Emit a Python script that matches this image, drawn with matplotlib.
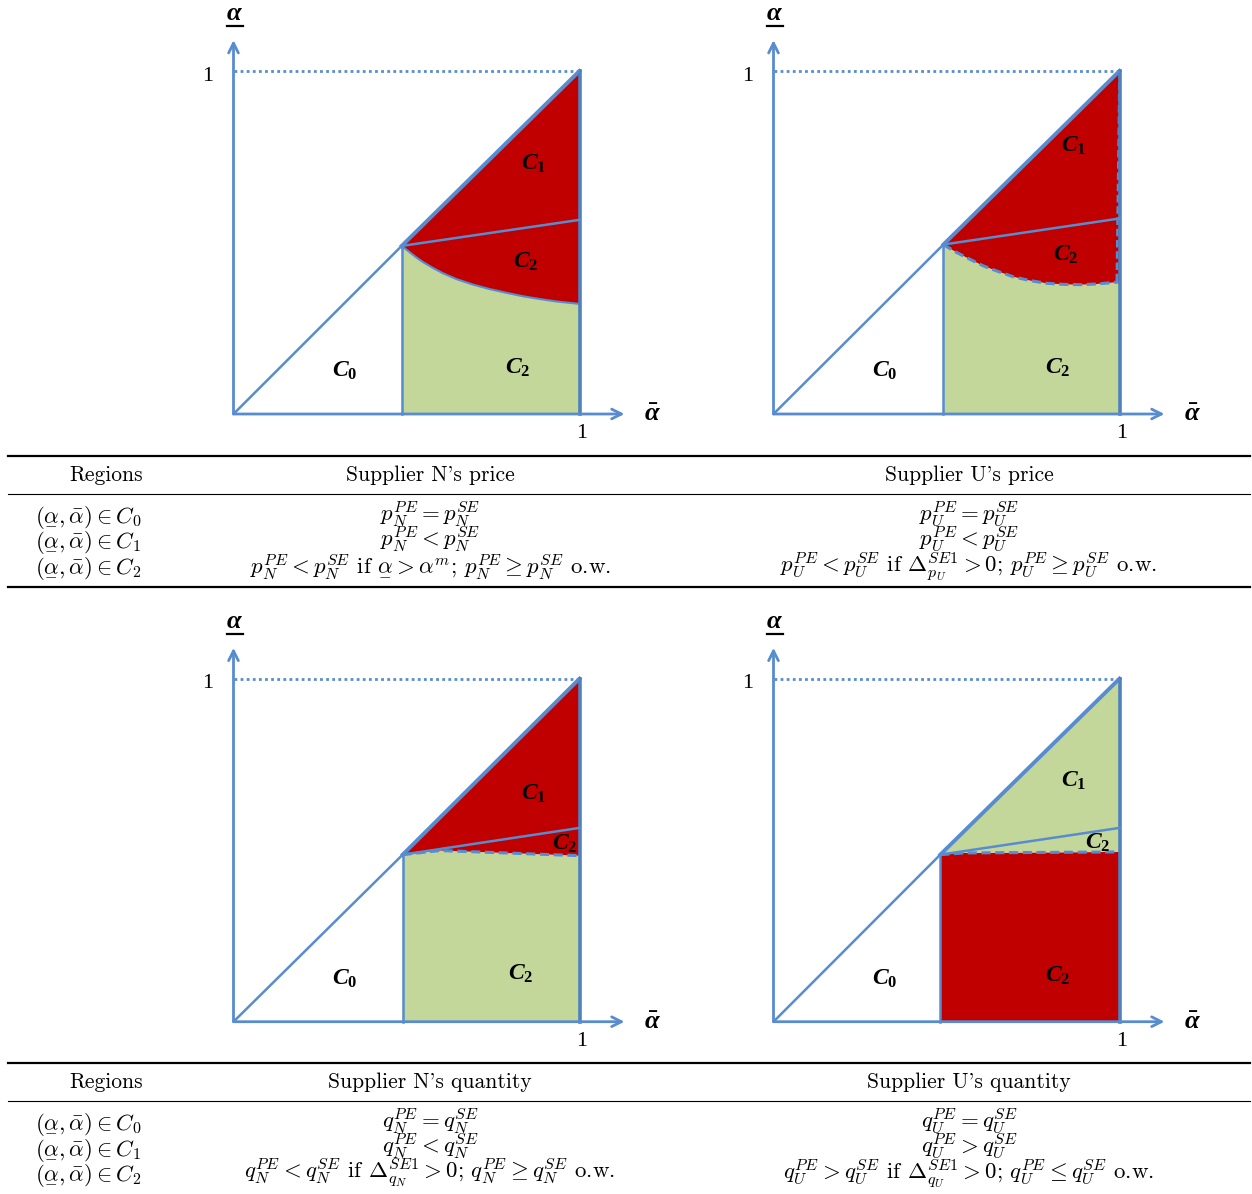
import numpy as np
import matplotlib
matplotlib.use("Agg")
import matplotlib.pyplot as plt

plt.rcParams['mathtext.fontset'] = 'custom'
plt.rcParams['mathtext.it'] = 'Liberation Serif:italic:bold'
plt.rcParams['mathtext.rm'] = 'Liberation Serif:bold'
plt.rcParams['mathtext.bf'] = 'Liberation Serif:bold'

# ---- data: region boundaries of each panel (TL, TR, BL, BR) ----
kink_x = [0.486, 0.491, 0.489, 0.482]
kink_y = [0.490, 0.494, 0.487, 0.487]
divider_end = [0.566, 0.570, 0.565, 0.565]

bound_x_tl = [0.486, 0.510, 0.529, 0.549, 0.578, 0.606, 0.645, 0.693, 0.741, 0.790, 0.838, 0.886, 0.934, 1.0]
bound_y_tl = [0.490, 0.471, 0.456, 0.442, 0.425, 0.410, 0.393, 0.377, 0.364, 0.353, 0.343, 0.335, 0.328, 0.321]
bound_x_tr = [0.491, 0.529, 0.568, 0.606, 0.645, 0.693, 0.741, 0.790, 0.838, 0.886, 0.934, 1.0]
bound_y_tr = [0.494, 0.471, 0.451, 0.432, 0.417, 0.400, 0.389, 0.381, 0.378, 0.377, 0.379, 0.385]
bound_x_bl = [0.489, 0.597, 1.0]
bound_y_bl = [0.487, 0.499, 0.484]
bound_x_br = [0.482, 0.550, 1.0]
bound_y_br = [0.487, 0.492, 0.495]

# colour of (upper region, lower region) per panel
upper_col = ['red', 'red', 'red', 'green']
lower_col = ['green', 'green', 'green', 'red']
bound_dashed = [False, True, True, True]

label_pos = [
    [(0.322, 0.128, '$C_0$'), (0.868, 0.732, '$C_1$'), (0.845, 0.446, '$C_2$'), (0.822, 0.137, '$C_2$')],
    [(0.322, 0.128, '$C_0$'), (0.866, 0.784, '$C_1$'), (0.845, 0.466, '$C_2$'), (0.822, 0.137, '$C_2$')],
    [(0.322, 0.127, '$C_0$'), (0.868, 0.667, '$C_1$'), (0.958, 0.521, '$C_2$'), (0.831, 0.142, '$C_2$')],
    [(0.322, 0.127, '$C_0$'), (0.866, 0.705, '$C_1$'), (0.938, 0.524, '$C_2$'), (0.822, 0.136, '$C_2$')],
]

# ---- table texts ----
region_rows = [r'$(\underset{-}{\alpha},\bar{\alpha})\in C_0$',
               r'$(\underset{-}{\alpha},\bar{\alpha})\in C_1$',
               r'$(\underset{-}{\alpha},\bar{\alpha})\in C_2$']
price_headers = ['Regions', "Supplier N's price", "Supplier U's price"]
price_N = [r'$p_N^{PE}=p_N^{SE}$', r'$p_N^{PE}<p_N^{SE}$',
           r'$p_N^{PE}<p_N^{SE}$ if $\underset{-}{\alpha}>\alpha^m$; $p_N^{PE}\geq p_N^{SE}$ o.w.']
price_U = [r'$p_U^{PE}=p_U^{SE}$', r'$p_U^{PE}<p_U^{SE}$',
           r'$p_U^{PE}<p_U^{SE}$ if $\Delta_{p_U}^{SE1}>0$; $p_U^{PE}\geq p_U^{SE}$ o.w.']
qty_headers = ['Regions', "Supplier N's quantity", "Supplier U's quantity"]
qty_N = [r'$q_N^{PE}=q_N^{SE}$', r'$q_N^{PE}<q_N^{SE}$',
         r'$q_N^{PE}<q_N^{SE}$ if $\Delta_{q_N}^{SE1}>0$; $q_N^{PE}\geq q_N^{SE}$ o.w.']
qty_U = [r'$q_U^{PE}=q_U^{SE}$', r'$q_U^{PE}>q_U^{SE}$',
         r'$q_U^{PE}>q_U^{SE}$ if $\Delta_{q_U}^{SE1}>0$; $q_U^{PE}\leq q_U^{SE}$ o.w.']

BLUE = '#588CD0'
EDGE = '#4F81BD'
RED = '#C00000'
GREEN = '#C4D79B'
COLS = {'red': RED, 'green': GREEN}

W, H = 1252, 1194
SX, SY = 346, 343
fig = plt.figure(figsize=(W / 100, H / 100), dpi=100)


def panel_axes(ox, oy):
    x0, x1, y0, y1 = -0.2, 1.3, -0.15, 1.25
    ax = fig.add_axes([(ox + x0 * SX) / W, (H - oy + y0 * SY) / H,
                       (x1 - x0) * SX / W, (y1 - y0) * SY / H])
    ax.set_xlim(x0, x1)
    ax.set_ylim(y0, y1)
    ax.axis('off')
    return ax


def draw_panel(ax, i, bx, by):
    kx, ky = kink_x[i], kink_y[i]
    bx = np.array(bx); by = np.array(by)
    # lower region
    lx = np.concatenate([[kx], bx, [1.0, 1.0, kx]])
    ly = np.concatenate([[ky], by, [by[-1], 0.0, 0.0]])
    ax.fill(lx, ly, color=COLS[lower_col[i]], lw=0)
    # upper region
    ux = np.concatenate([[kx, 1.0, 1.0], bx[::-1]])
    uy = np.concatenate([[ky, 1.0, by[-1]], by[::-1]])
    ax.fill(ux, uy, color=COLS[upper_col[i]], lw=0)
    if bound_dashed[i]:
        ax.plot(bx, by, color=BLUE, lw=2.2, ls=(0, (3, 1.5)))
        if i == 1:
            ax.plot([kx, 1.0, 0.992], [ky, 1.0, by[-1]], color=BLUE, lw=1.8, ls=(0, (3, 1.5)))
    else:
        ax.plot(bx, by, color=BLUE, lw=1.5)
    # frame lines
    ax.plot([0, kx], [0, ky], color=BLUE, lw=1.8, solid_capstyle='butt')
    ax.plot([kx, 1.0], [ky, 1.0], color=BLUE, lw=2.8)
    ax.plot([kx, kx], [0, ky], color=BLUE, lw=1.8)
    ax.plot([1.0, 1.0], [0, 1.0], color=EDGE, lw=2.6)
    ax.plot([kx, 1.0], [ky, divider_end[i]], color=BLUE, lw=1.8)
    ax.plot([0, 1.0], [1.0, 1.0], color=BLUE, lw=2, ls=(0, (1, 1.2)))
    # axes with arrows
    arrow = dict(arrowstyle='->,head_length=0.7,head_width=0.35', color=BLUE, lw=2,
                 shrinkA=0, shrinkB=0)
    ax.annotate('', xy=(0, 1.09), xytext=(0, 0), arrowprops=arrow)
    ax.annotate('', xy=(1.13, 0), xytext=(0, 0), arrowprops=arrow)
    ax.text(-0.074, 0.985, '1', family='Liberation Serif', fontsize=16, ha='center', va='center')
    ax.text(1.007, -0.058, '1', family='Liberation Serif', fontsize=16, ha='center', va='center')
    ax.text(1.21, 0.0, r'$\bar{\alpha}$', fontsize=19, ha='center', va='center')
    ax.text(0.004, 1.168, r'$\alpha$', fontsize=19, ha='center', va='center')
    ax.plot([-0.019, 0.027], [1.131, 1.131], color='black', lw=1.6, clip_on=False)
    for x, y, s in label_pos[i]:
        ax.text(x, y, s, fontsize=17, ha='center', va='center')


origins = [(233.5, 414), (773.5, 414), (233.5, 1021.7), (773.5, 1021.7)]
bounds = [(bound_x_tl, bound_y_tl), (bound_x_tr, bound_y_tr),
          (bound_x_bl, bound_y_bl), (bound_x_br, bound_y_br)]
for i, (o, b) in enumerate(zip(origins, bounds)):
    ax = panel_axes(*o)
    draw_panel(ax, i, *b)


def fx(x):
    return x / W


def fy(y):
    return 1 - y / H


def rule(y, lw):
    fig.add_artist(plt.Line2D([fx(8), fx(1250)], [fy(y), fy(y)], color='black', lw=lw))


def table(top, headers, colN, colU, bottom_rule):
    rule(top, 1.6)
    rule(top + 38, 0.8)
    if bottom_rule:
        rule(top + 131, 1.6)
    hk = dict(family=['cmr10', 'DejaVu Serif'], fontsize=15.5, ha='center', va='center')
    tk = dict(family=['cmr10', 'DejaVu Serif'], math_fontfamily='cm', fontsize=16.5,
              ha='center', va='baseline')
    hy = top + 19
    fig.text(fx(106), fy(hy), headers[0], **hk)
    fig.text(fx(430), fy(hy), headers[1], **hk)
    fig.text(fx(969), fy(hy), headers[2], **hk)
    for r in range(3):
        y = top + 65 + 25.5 * r
        fig.text(fx(88), fy(y), region_rows[r], **tk)
        fig.text(fx(430), fy(y), colN[r], **tk)
        fig.text(fx(969), fy(y), colU[r], **tk)


table(456, price_headers, price_N, price_U, True)
table(1063, qty_headers, qty_N, qty_U, False)

fig.savefig('out.png', dpi=100)
